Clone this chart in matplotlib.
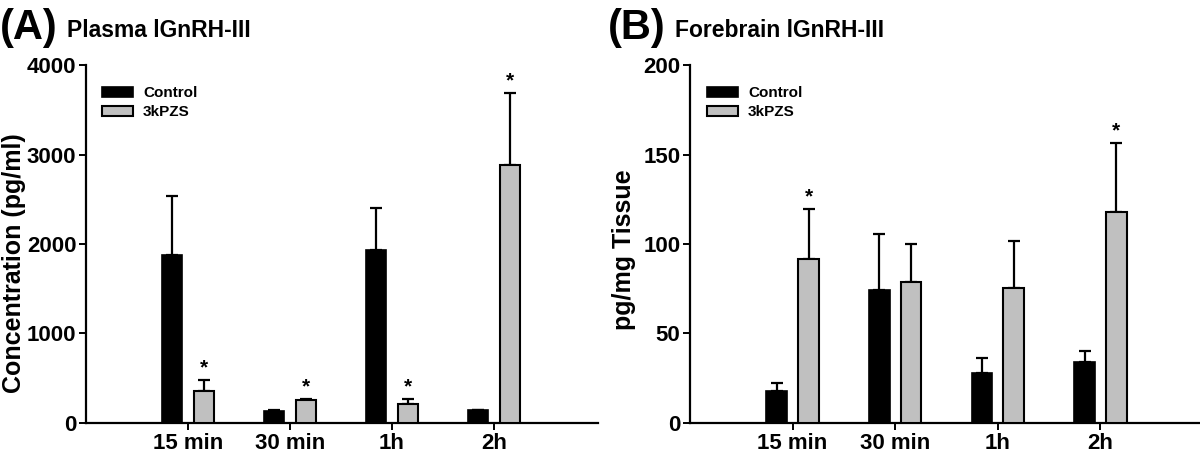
import numpy as np
import matplotlib
matplotlib.use("Agg")
import matplotlib.pyplot as plt

plt.rcParams['font.family'] = ['Liberation Sans', 'DejaVu Sans']
plt.rcParams['font.weight'] = 'bold'

# -----------------------------
# Data
# -----------------------------
times = ["15 min", "30 min", "1h", "2h"]

plasma_ctrl = [1880, 130, 1930, 140]
plasma_ctrl_sem = [660, 15, 470, 10]
plasma_pzs = [360, 255, 210, 2880]
plasma_pzs_sem = [120, 10, 60, 810]
plasma_star = [True, True, True, True]

brain_ctrl = [18, 74.5, 28, 34]
brain_ctrl_sem = [4.5, 31, 8.5, 6]
brain_pzs = [91.5, 79, 75.5, 118]
brain_pzs_sem = [28, 21, 26, 38.5]
brain_star = [True, False, False, True]

fig = plt.figure(figsize=(12, 4.54), dpi=100)
axA = fig.add_axes([0.0717, 0.0683, 0.4266, 0.7885])
axB = fig.add_axes([0.575, 0.0683, 0.425, 0.7885])


def draw_panel(ax, ctrl, ctrl_sem, pzs, pzs_sem, stars, ymax, yticks, leg_x):
    x = np.arange(len(times))
    w = 0.2
    off = 0.155
    ax.bar(x - off, ctrl, w, color="black", edgecolor="black", linewidth=1.2,
           label="Control", zorder=3)
    ax.bar(x + off, pzs, w, color="#c0c0c0", edgecolor="black", linewidth=1.5,
           label="3kPZS", zorder=3)
    ax.errorbar(x - off, ctrl, yerr=[np.zeros(len(ctrl)), ctrl_sem], fmt="none",
                ecolor="black", elinewidth=1.6, capsize=4, capthick=1.6, zorder=2)
    ax.errorbar(x + off, pzs, yerr=[np.zeros(len(pzs)), pzs_sem], fmt="none",
                ecolor="black", elinewidth=1.6, capsize=4, capthick=1.6, zorder=2)
    for i, s in enumerate(stars):
        if s:
            ax.annotate("*", (x[i] + off, pzs[i] + pzs_sem[i]), xytext=(0, 2),
                        textcoords="offset points", ha="center", va="bottom",
                        fontsize=15, fontweight="bold")

    ax.set_ylim(0, ymax)
    ax.set_yticks(yticks)
    ax.set_xticks(x)
    ax.set_xticklabels(times, fontsize=16, fontweight="bold")
    for lab in ax.get_yticklabels():
        lab.set_fontsize(16)
        lab.set_fontweight("bold")
    ax.spines["top"].set_visible(False)
    ax.spines["right"].set_visible(False)
    ax.spines["left"].set_linewidth(1.6)
    ax.spines["bottom"].set_linewidth(1.6)
    ax.tick_params(axis="both", width=1.4, length=5, pad=2)
    ax.legend(loc="upper left", bbox_to_anchor=(leg_x, 0.94), frameon=False,
              borderaxespad=0, borderpad=0,
              prop={"size": 11, "weight": "bold"}, handlelength=2.05,
              handleheight=0.65, labelspacing=0.3, handletextpad=0.65)


draw_panel(axA, plasma_ctrl, plasma_ctrl_sem, plasma_pzs, plasma_pzs_sem,
           plasma_star, 4000, [0, 1000, 2000, 3000, 4000], 0.031)
axA.set_xlim(-1, 4.02)

draw_panel(axB, brain_ctrl, brain_ctrl_sem, brain_pzs, brain_pzs_sem,
           brain_star, 200, [0, 50, 100, 150, 200], 0.033)
axB.set_xlim(-1, 3.97)

fig.text(0.0117, 0.4207, "Concentration (pg/ml)", rotation=90, fontsize=18,
         fontweight="bold", ha="center", va="center")
fig.text(0.52, 0.449, "pg/mg Tissue", rotation=90, fontsize=18,
         fontweight="bold", ha="center", va="center")

fig.text(0.0, 0.915, "(A)", fontsize=30, fontweight="bold", ha="left", va="baseline")
fig.text(0.0558, 0.9185, "Plasma lGnRH-III", fontsize=16.5, fontweight="bold",
         ha="left", va="baseline")
fig.text(0.5067, 0.915, "(B)", fontsize=30, fontweight="bold", ha="left", va="baseline")
fig.text(0.5625, 0.9185, "Forebrain lGnRH-III", fontsize=16.5, fontweight="bold",
         ha="left", va="baseline")

fig.savefig("out.png", dpi=100)
